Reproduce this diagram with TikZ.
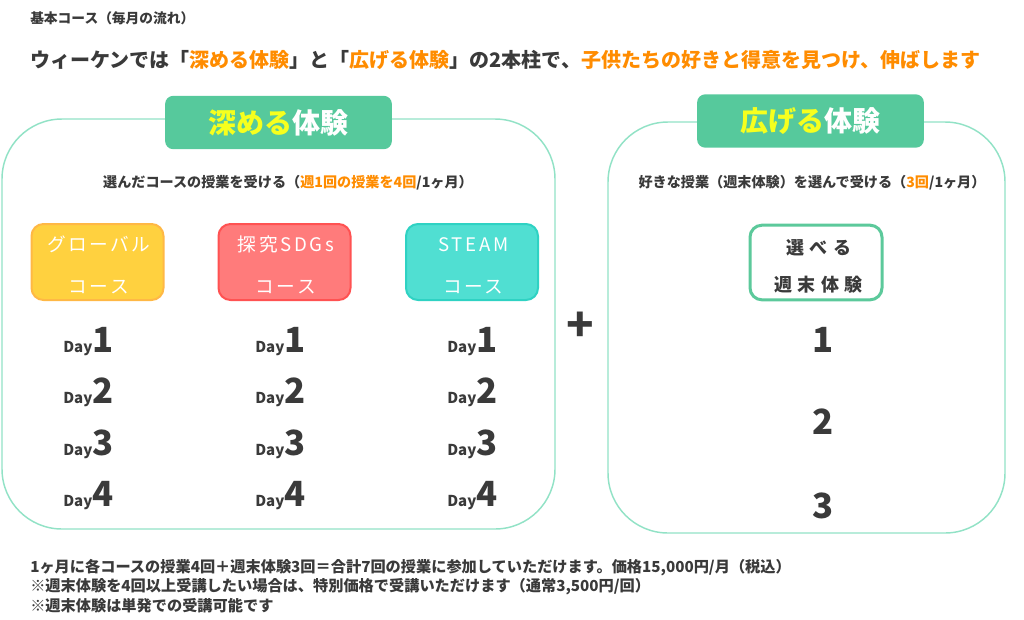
\documentclass[tikz,border=0pt]{standalone}
\usepackage{fontspec}
\usepackage{xcolor}
\usepackage{tikz}
\usetikzlibrary{positioning,calc}
\setmainfont{Noto Sans CJK JP}
\newfontfamily\coursefont{Noto Sans CJK JP}[LetterSpace=14]
\newfontfamily\pickfont{Noto Sans CJK JP}[LetterSpace=30]

\definecolor{ink}{HTML}{3A3A3A}
\definecolor{accent}{HTML}{FF8C00}
\definecolor{tabgreen}{HTML}{56C99C}
\definecolor{panelline}{HTML}{92E2C6}
\definecolor{tabyellow}{HTML}{F6FF1E}
\definecolor{globalfill}{HTML}{FFD13F}
\definecolor{globalline}{HTML}{FFB845}
\definecolor{sdgsfill}{HTML}{FF7B7B}
\definecolor{sdgsline}{HTML}{FF5252}
\definecolor{steamfill}{HTML}{50DFD2}
\definecolor{steamline}{HTML}{2FD2C3}
\definecolor{pickline}{HTML}{5CC99B}

\newcommand{\daynum}[1]{{\fontsize{26}{26}\selectfont #1}}

\begin{document}
\begin{tikzpicture}[x=0.75pt, y=-0.75pt, text=ink,
    panel/.style={draw=panelline, line width=1.1pt, rounded corners=45pt},
    tab/.style={fill=tabgreen, rounded corners=6pt, minimum width=170pt, minimum height=40pt, inner sep=0pt, font=\fontsize{21}{24}\selectfont\bfseries},
    course/.style={rounded corners=9pt, line width=1.5pt, minimum width=99pt, minimum height=57pt, inner sep=0pt},
    coursetext/.style={align=center, inner sep=0pt, text=white, font=\coursefont\fontsize{14}{31.5}\selectfont},
    lead/.style={font=\fontsize{10.6}{13}\selectfont\bfseries},
    day/.style={anchor=base west, inner sep=0pt, font=\fontsize{11.25}{13}\selectfont\bfseries},
    pick/.style={anchor=base, inner sep=0pt, font=\fontsize{26}{26}\selectfont\bfseries}]
    \useasboundingbox (0,0) rectangle (1024,619);

    % Headings
    \node[anchor=west, inner sep=0pt, font=\fontsize{10.3}{12}\selectfont\bfseries] (course) at (30,18) {基本コース（毎月の流れ）};
    \node[anchor=west, inner sep=0pt, font=\fontsize{15}{18}\selectfont\bfseries] (headline) at (30,60)
        {ウィーケンでは「{\color{accent}深める体験}」と「{\color{accent}広げる体験}」の2本柱で、{\color{accent}子供たちの好きと得意を見つけ、伸ばします}};

    % Panels
    \draw[panel] (2,119) rectangle (555,529);
    \draw[panel] (608,122) rectangle (1005,533);

    % Tabs
    \node[tab] (deep) at (278.5,122.5) {{\color{tabyellow}深める}{\color{white}体験}};
    \node[tab] (wide) at (810.5,121) {{\color{tabyellow}広げる}{\color{white}体験}};

    \node[lead] (deeplead) at (288,183) {選んだコースの授業を受ける（{\color{accent}週1回の授業を4回}/1ヶ月）};
    \node[lead] (widelead) at (812,183) {好きな授業（週末体験）を選んで受ける（{\color{accent}3回}/1ヶ月）};

    % Courses
    \node[course, fill=globalfill, draw=globalline] (global) at (97.5,262) {};
    \node[course, fill=sdgsfill, draw=sdgsline] (sdgs) at (284.5,262) {};
    \node[course, fill=steamfill, draw=steamline] (steam) at (472,262) {};
    \node[coursetext] (globaltext) at ([xshift=1pt,yshift=-2.5pt]global.center) {グローバル\\コース};
    \node[coursetext] (sdgstext) at ([xshift=1pt,yshift=-2.5pt]sdgs.center) {探究SDGs\\コース};
    \node[coursetext] (steamtext) at ([xshift=1pt,yshift=-2.5pt]steam.center) {STEAM\\コース};

    % Days
    \node[day] (g1) at (63,352) {Day\daynum{1}};
    \node[day] (g2) at (63,403) {Day\daynum{2}};
    \node[day] (g3) at (63,455) {Day\daynum{3}};
    \node[day] (g4) at (63,506) {Day\daynum{4}};
    \node[day] (s1) at (255,352) {Day\daynum{1}};
    \node[day] (s2) at (255,403) {Day\daynum{2}};
    \node[day] (s3) at (255,455) {Day\daynum{3}};
    \node[day] (s4) at (255,506) {Day\daynum{4}};
    \node[day] (t1) at (447,352) {Day\daynum{1}};
    \node[day] (t2) at (447,403) {Day\daynum{2}};
    \node[day] (t3) at (447,455) {Day\daynum{3}};
    \node[day] (t4) at (447,506) {Day\daynum{4}};

    \node[font=\fontsize{34}{34}\selectfont\bfseries, inner sep=0pt] (plus) at (580,327) {+};

    % Weekend
    \node[draw=pickline, line width=2.25pt, rounded corners=9pt, fill=white, minimum width=99pt, minimum height=56pt, inner sep=0pt] (weekend) at (816,262.5) {};
    \node[align=center, inner sep=0pt, font=\pickfont\fontsize{13.5}{27.75}\selectfont\bfseries] (weekendtext) at ([xshift=2pt,yshift=-3pt]weekend.center) {選べる\\週末体験};
    \node[pick] (w1) at (823,352) {1};
    \node[pick] (w2) at (823,434) {2};
    \node[pick] (w3) at (823,518) {3};

    % Notes
    \node[anchor=west, inner sep=0pt, align=left, font=\fontsize{11.4}{14.6}\selectfont\bfseries] (notes) at (30,586)
        {1ヶ月に各コースの授業4回＋週末体験3回＝合計7回の授業に参加していただけます。価格15,000円/月（税込）\\
         ※週末体験を4回以上受講したい場合は、特別価格で受講いただけます（通常3,500円/回）\\
         ※週末体験は単発での受講可能です};
\end{tikzpicture}
\end{document}
